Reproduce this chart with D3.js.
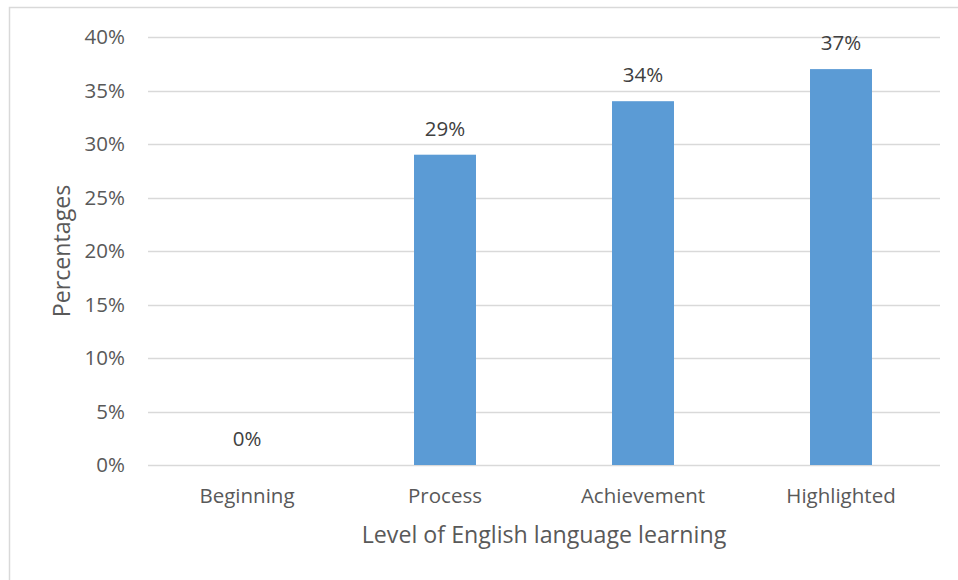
<!DOCTYPE html>
<html lang="en">
	<head>
		<meta charset="utf-8">
		<title>Level of English language learning</title>
		<script type="text/javascript" src="https://cdn.jsdelivr.net/npm/d3@7"></script>
		<style type="text/css">
			body { margin: 0; background: #fff; }
			text { font-family: "Open Sans", sans-serif; fill: #595959; }
		</style>
	</head>
	<body>
		<script type="text/javascript">

			//Data
			var categories = ["Beginning", "Process", "Achievement", "Highlighted"];
			var values = [0, 29, 34, 37];
			var yTicks = [0, 5, 10, 15, 20, 25, 30, 35, 40];

			//Size
			var w = 958;
			var h = 580;
			var pLeft = 148, pRight = 940, pTop = 37, pBottom = 465;

			var xScale = d3.scaleBand()
							.domain(categories)
							.range([pLeft, pRight]);

			var barW = xScale.bandwidth() * 0.313;

			var yScale = d3.scaleLinear()
							.domain([0, 40])
							.range([pBottom, pTop]);

			var svg = d3.select("body")
						.append("svg")
						.attr("width", w)
						.attr("height", h);

			//chart border
			svg.append("rect")
			   .attr("x", 9.5)
			   .attr("y", 7.5)
			   .attr("width", 960)
			   .attr("height", 600)
			   .attr("fill", "none")
			   .attr("stroke", "#d9d9d9")
			   .attr("stroke-width", 1.5);

			//gridlines
			svg.selectAll("line.grid")
			   .data(yTicks)
			   .enter()
			   .append("line")
			   .attr("class", "grid")
			   .attr("x1", pLeft)
			   .attr("x2", pRight)
			   .attr("y1", function(d) { return Math.round(yScale(d)) + 0.5; })
			   .attr("y2", function(d) { return Math.round(yScale(d)) + 0.5; })
			   .attr("stroke", "#d9d9d9")
			   .attr("stroke-width", 1.3);

			svg.selectAll("text.ytick")
			   .data(yTicks)
			   .enter()
			   .append("text")
			   .attr("class", "ytick")
			   .attr("x", 125)
			   .attr("y", function(d) { return yScale(d); })
			   .attr("dy", "0.35em")
			   .attr("text-anchor", "end")
			   .attr("font-size", "20.5px")
			   .text(function(d) { return d + "%"; });

			//bars
			svg.selectAll("rect.bar")
			   .data(values)
			   .enter()
			   .append("rect")
			   .attr("class", "bar")
			   .attr("x", function(d, i) {
			   		return xScale(categories[i]) + xScale.bandwidth() / 2 - barW / 2;
			   })
			   .attr("y", function(d) { return yScale(d); })
			   .attr("width", barW)
			   .attr("height", function(d) { return pBottom - yScale(d); })
			   .attr("fill", "#5b9bd5");

			//value labels
			svg.selectAll("text.val")
			   .data(values)
			   .enter()
			   .append("text")
			   .attr("class", "val")
			   .attr("x", function(d, i) {
			   		return xScale(categories[i]) + xScale.bandwidth() / 2;
			   })
			   .attr("y", function(d) { return yScale(d) - 26; })
			   .attr("dy", "0.35em")
			   .attr("text-anchor", "middle")
			   .attr("font-size", "20.5px")
			   .style("fill", "#404040")
			   .text(function(d) { return d + "%"; });

			//category labels
			svg.selectAll("text.xtick")
			   .data(categories)
			   .enter()
			   .append("text")
			   .attr("class", "xtick")
			   .attr("x", function(d) { return xScale(d) + xScale.bandwidth() / 2; })
			   .attr("y", 496)
			   .attr("dy", "0.35em")
			   .attr("text-anchor", "middle")
			   .attr("font-size", "20.5px")
			   .text(function(d) { return d; });

			//axis titles
			svg.append("text")
			   .attr("x", (pLeft + pRight) / 2)
			   .attr("y", 535)
			   .attr("dy", "0.35em")
			   .attr("text-anchor", "middle")
			   .attr("font-size", "23.2px")
			   .text("Level of English language learning");

			svg.append("text")
			   .attr("transform", "translate(62," + (pTop + pBottom) / 2 + ") rotate(-90)")
			   .attr("dy", "0.35em")
			   .attr("text-anchor", "middle")
			   .attr("font-size", "23.2px")
			   .text("Percentages");

		</script>
	</body>
</html>
